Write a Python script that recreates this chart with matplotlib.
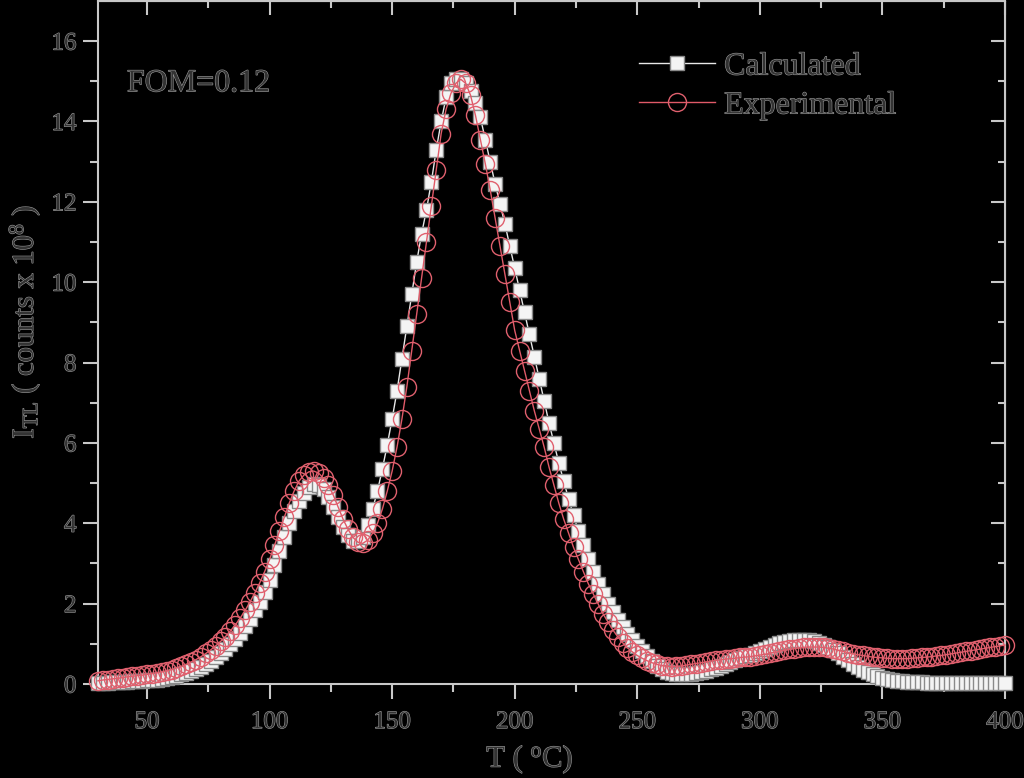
import numpy as np
import matplotlib
matplotlib.use("Agg")
import matplotlib.pyplot as plt
import matplotlib.patheffects as pe

# ---- data ----
temperature = list(range(30, 402, 2))

calculated = [
    0.02, 0.03, 0.03, 0.04, 0.05, 0.05, 0.06, 0.07, 0.07, 0.08,   # 30-48
    0.09, 0.10, 0.11, 0.13, 0.15, 0.17, 0.20, 0.24, 0.28, 0.32,   # 50-68
    0.37, 0.43, 0.50, 0.58, 0.67, 0.77, 0.88, 1.00, 1.13, 1.28,   # 70-88
    1.45, 1.63, 1.83, 2.05, 2.30, 2.60, 2.95, 3.30, 3.65, 4.00,   # 90-108
    4.30, 4.55, 4.75, 4.90, 4.97, 4.95, 4.85, 4.65, 4.40, 4.15,   # 110-128
    3.90, 3.70, 3.57, 3.55, 3.65, 3.95, 4.35, 4.80, 5.35, 5.95,   # 130-148
    6.60, 7.30, 8.10, 8.90, 9.70, 10.50, 11.20, 11.80, 12.50, 13.30,  # 150-168
    14.00, 14.60, 14.95, 15.05, 15.05, 14.95, 14.75, 14.45, 14.10, 13.55,  # 170-188
    13.00, 12.45, 11.95, 11.45, 10.90, 10.35, 9.80, 9.25, 8.70, 8.15,  # 190-208
    7.60, 7.05, 6.50, 6.00, 5.50, 5.05, 4.60, 4.20, 3.80, 3.45,   # 210-228
    3.10, 2.80, 2.50, 2.25, 2.00, 1.80, 1.60, 1.42, 1.25, 1.10,   # 230-248
    0.95, 0.82, 0.70, 0.58, 0.46, 0.37, 0.31, 0.27, 0.25, 0.24,   # 250-268
    0.24, 0.25, 0.27, 0.30, 0.33, 0.37, 0.41, 0.45, 0.49, 0.54,   # 270-288
    0.59, 0.64, 0.69, 0.73, 0.78, 0.83, 0.88, 0.93, 0.97, 1.01,   # 290-308
    1.04, 1.07, 1.09, 1.10, 1.10, 1.09, 1.07, 1.03, 0.98, 0.92,   # 310-328
    0.85, 0.77, 0.68, 0.59, 0.50, 0.42, 0.35, 0.29, 0.24, 0.19,   # 330-348
    0.15, 0.12, 0.10, 0.08, 0.07, 0.06, 0.05, 0.04, 0.04, 0.03,   # 350-368
    0.03, 0.03, 0.02, 0.02, 0.02, 0.02, 0.02, 0.02, 0.02, 0.02,   # 370-388
    0.02, 0.02, 0.02, 0.02, 0.02, 0.02,                           # 390-400
]

experimental = [
    0.08, 0.10, 0.11, 0.13, 0.14, 0.16, 0.18, 0.19, 0.21, 0.22,   # 30-48
    0.24, 0.26, 0.28, 0.30, 0.33, 0.36, 0.40, 0.44, 0.49, 0.55,   # 50-68
    0.61, 0.68, 0.76, 0.85, 0.95, 1.06, 1.18, 1.32, 1.47, 1.64,   # 70-88
    1.83, 2.04, 2.27, 2.52, 2.80, 3.10, 3.45, 3.80, 4.15, 4.50,   # 90-108
    4.80, 5.05, 5.20, 5.28, 5.30, 5.25, 5.12, 4.95, 4.70, 4.40,   # 110-128
    4.10, 3.85, 3.65, 3.53, 3.50, 3.58, 3.75, 4.00, 4.35, 4.80,   # 130-148
    5.30, 5.90, 6.60, 7.40, 8.30, 9.20, 10.10, 11.00, 11.90, 12.80,  # 150-168
    13.70, 14.30, 14.70, 14.95, 15.05, 14.95, 14.65, 14.15, 13.55, 12.95,  # 170-188
    12.30, 11.60, 10.90, 10.20, 9.50, 8.80, 8.30, 7.80, 7.30, 6.80,  # 190-208
    6.35, 5.90, 5.40, 4.95, 4.50, 4.10, 3.75, 3.40, 3.10, 2.80,   # 210-228
    2.50, 2.25, 2.00, 1.75, 1.55, 1.35, 1.18, 1.03, 0.90, 0.80,   # 230-248
    0.71, 0.64, 0.58, 0.53, 0.49, 0.46, 0.44, 0.43, 0.44, 0.45,   # 250-268
    0.47, 0.49, 0.51, 0.53, 0.55, 0.57, 0.59, 0.60, 0.62, 0.63,   # 270-288
    0.64, 0.66, 0.67, 0.68, 0.70, 0.72, 0.74, 0.76, 0.79, 0.81,   # 290-308
    0.84, 0.86, 0.88, 0.90, 0.91, 0.92, 0.92, 0.92, 0.91, 0.89,   # 310-328
    0.87, 0.84, 0.81, 0.78, 0.75, 0.73, 0.71, 0.69, 0.67, 0.66,   # 330-348
    0.65, 0.64, 0.63, 0.63, 0.63, 0.63, 0.64, 0.65, 0.66, 0.67,   # 350-368
    0.68, 0.70, 0.71, 0.73, 0.75, 0.77, 0.79, 0.81, 0.83, 0.85,   # 370-388
    0.87, 0.89, 0.91, 0.93, 0.95, 0.97,                           # 390-400
]

x_ticks = [50, 100, 150, 200, 250, 300, 350, 400]
y_ticks = [0, 2, 4, 6, 8, 10, 12, 14, 16]
series_labels = ["Calculated", "Experimental"]

# ---- style ----
plt.rcParams['font.family'] = ['Liberation Serif', 'DejaVu Serif']
plt.rcParams['mathtext.fontset'] = 'custom'
plt.rcParams['mathtext.rm'] = 'Liberation Serif'
plt.rcParams['mathtext.it'] = 'Liberation Serif'

TXT = '#333333'
HALO = [pe.withStroke(linewidth=0.8, foreground='#9a9a9a')]
SPINE = '#c8c8c8'

fig = plt.figure(figsize=(10.24, 7.78), dpi=100, facecolor='black')
ax = fig.add_axes([0.0957, 0.1208, 0.8857, 0.878])
ax.set_facecolor('black')

ax.plot(temperature, calculated, '-', color='#e8e8e8', lw=1.0,
        marker='s', ms=10, mfc='#f4f4f4', mec='#8a8a8a', mew=1.0,
        clip_on=False, zorder=3, label=series_labels[0])
ax.plot(temperature, experimental, '-', color='#e05a68', lw=1.0,
        marker='o', ms=13, mfc='none', mec='#e0606e', mew=1.0,
        clip_on=False, zorder=4, label=series_labels[1])

ax.set_xlim(30, 400)
ax.set_ylim(0, 17)
ax.set_xticks(x_ticks)
ax.set_yticks(y_ticks)
ax.set_xticks([75, 125, 175, 225, 275, 325, 375], minor=True)
ax.set_yticks([1, 3, 5, 7, 9, 11, 13, 15], minor=True)

for s in ax.spines.values():
    s.set_color(SPINE)
    s.set_linewidth(1.5)

ax.tick_params(which='both', direction='out', color=SPINE, width=1.5,
               labelsize=18, labelcolor=TXT)
ax.tick_params(which='major', length=10.5, pad=5)
ax.tick_params(which='minor', length=5.5)
ax.tick_params(axis='x', which='major', pad=9)

# inward ticks on top/right
axt = ax.secondary_xaxis('top')
axt.set_xticks(x_ticks)
axt.set_xticks([75, 125, 175, 225, 275, 325, 375], minor=True)
axt.tick_params(which='both', direction='in', color=SPINE, width=1.5, labeltop=False)
axt.tick_params(which='major', length=10)
axt.tick_params(which='minor', length=5)
axt.spines['top'].set_color(SPINE)
axr = ax.secondary_yaxis('right')
axr.set_yticks(y_ticks)
axr.set_yticks([1, 3, 5, 7, 9, 11, 13, 15], minor=True)
axr.tick_params(which='both', direction='in', color=SPINE, width=1.5, labelright=False)
axr.tick_params(which='major', length=10)
axr.tick_params(which='minor', length=5)
axr.spines['right'].set_color(SPINE)

for lab in ax.get_xticklabels() + ax.get_yticklabels():
    lab.set_path_effects(HALO)

ax.set_xlabel(r'T ( $^{\rm o}$C)', fontsize=22, color=TXT, path_effects=HALO)
ax.xaxis.set_label_coords(0.476, -0.085)
ax.set_ylabel(r'I$_{\rm TL}$ ( counts x 10$^{\rm 8}$ )', fontsize=22, color=TXT,
              path_effects=HALO)
ax.yaxis.set_label_coords(-0.062, 0.53)

ax.text(41.8, 14.75, 'FOM=0.12', fontsize=23, color=TXT, ha='left',
        va='baseline', path_effects=HALO)

leg = ax.legend(loc='upper left', bbox_to_anchor=(0.597, 0.925), frameon=False,
                fontsize=23, handlelength=2.35, handletextpad=0.3,
                labelspacing=0.3, borderpad=0, borderaxespad=0)
for t in leg.get_texts():
    t.set_color(TXT)
    t.set_path_effects(HALO)

fig.savefig('out.png', dpi=100, facecolor='black')
